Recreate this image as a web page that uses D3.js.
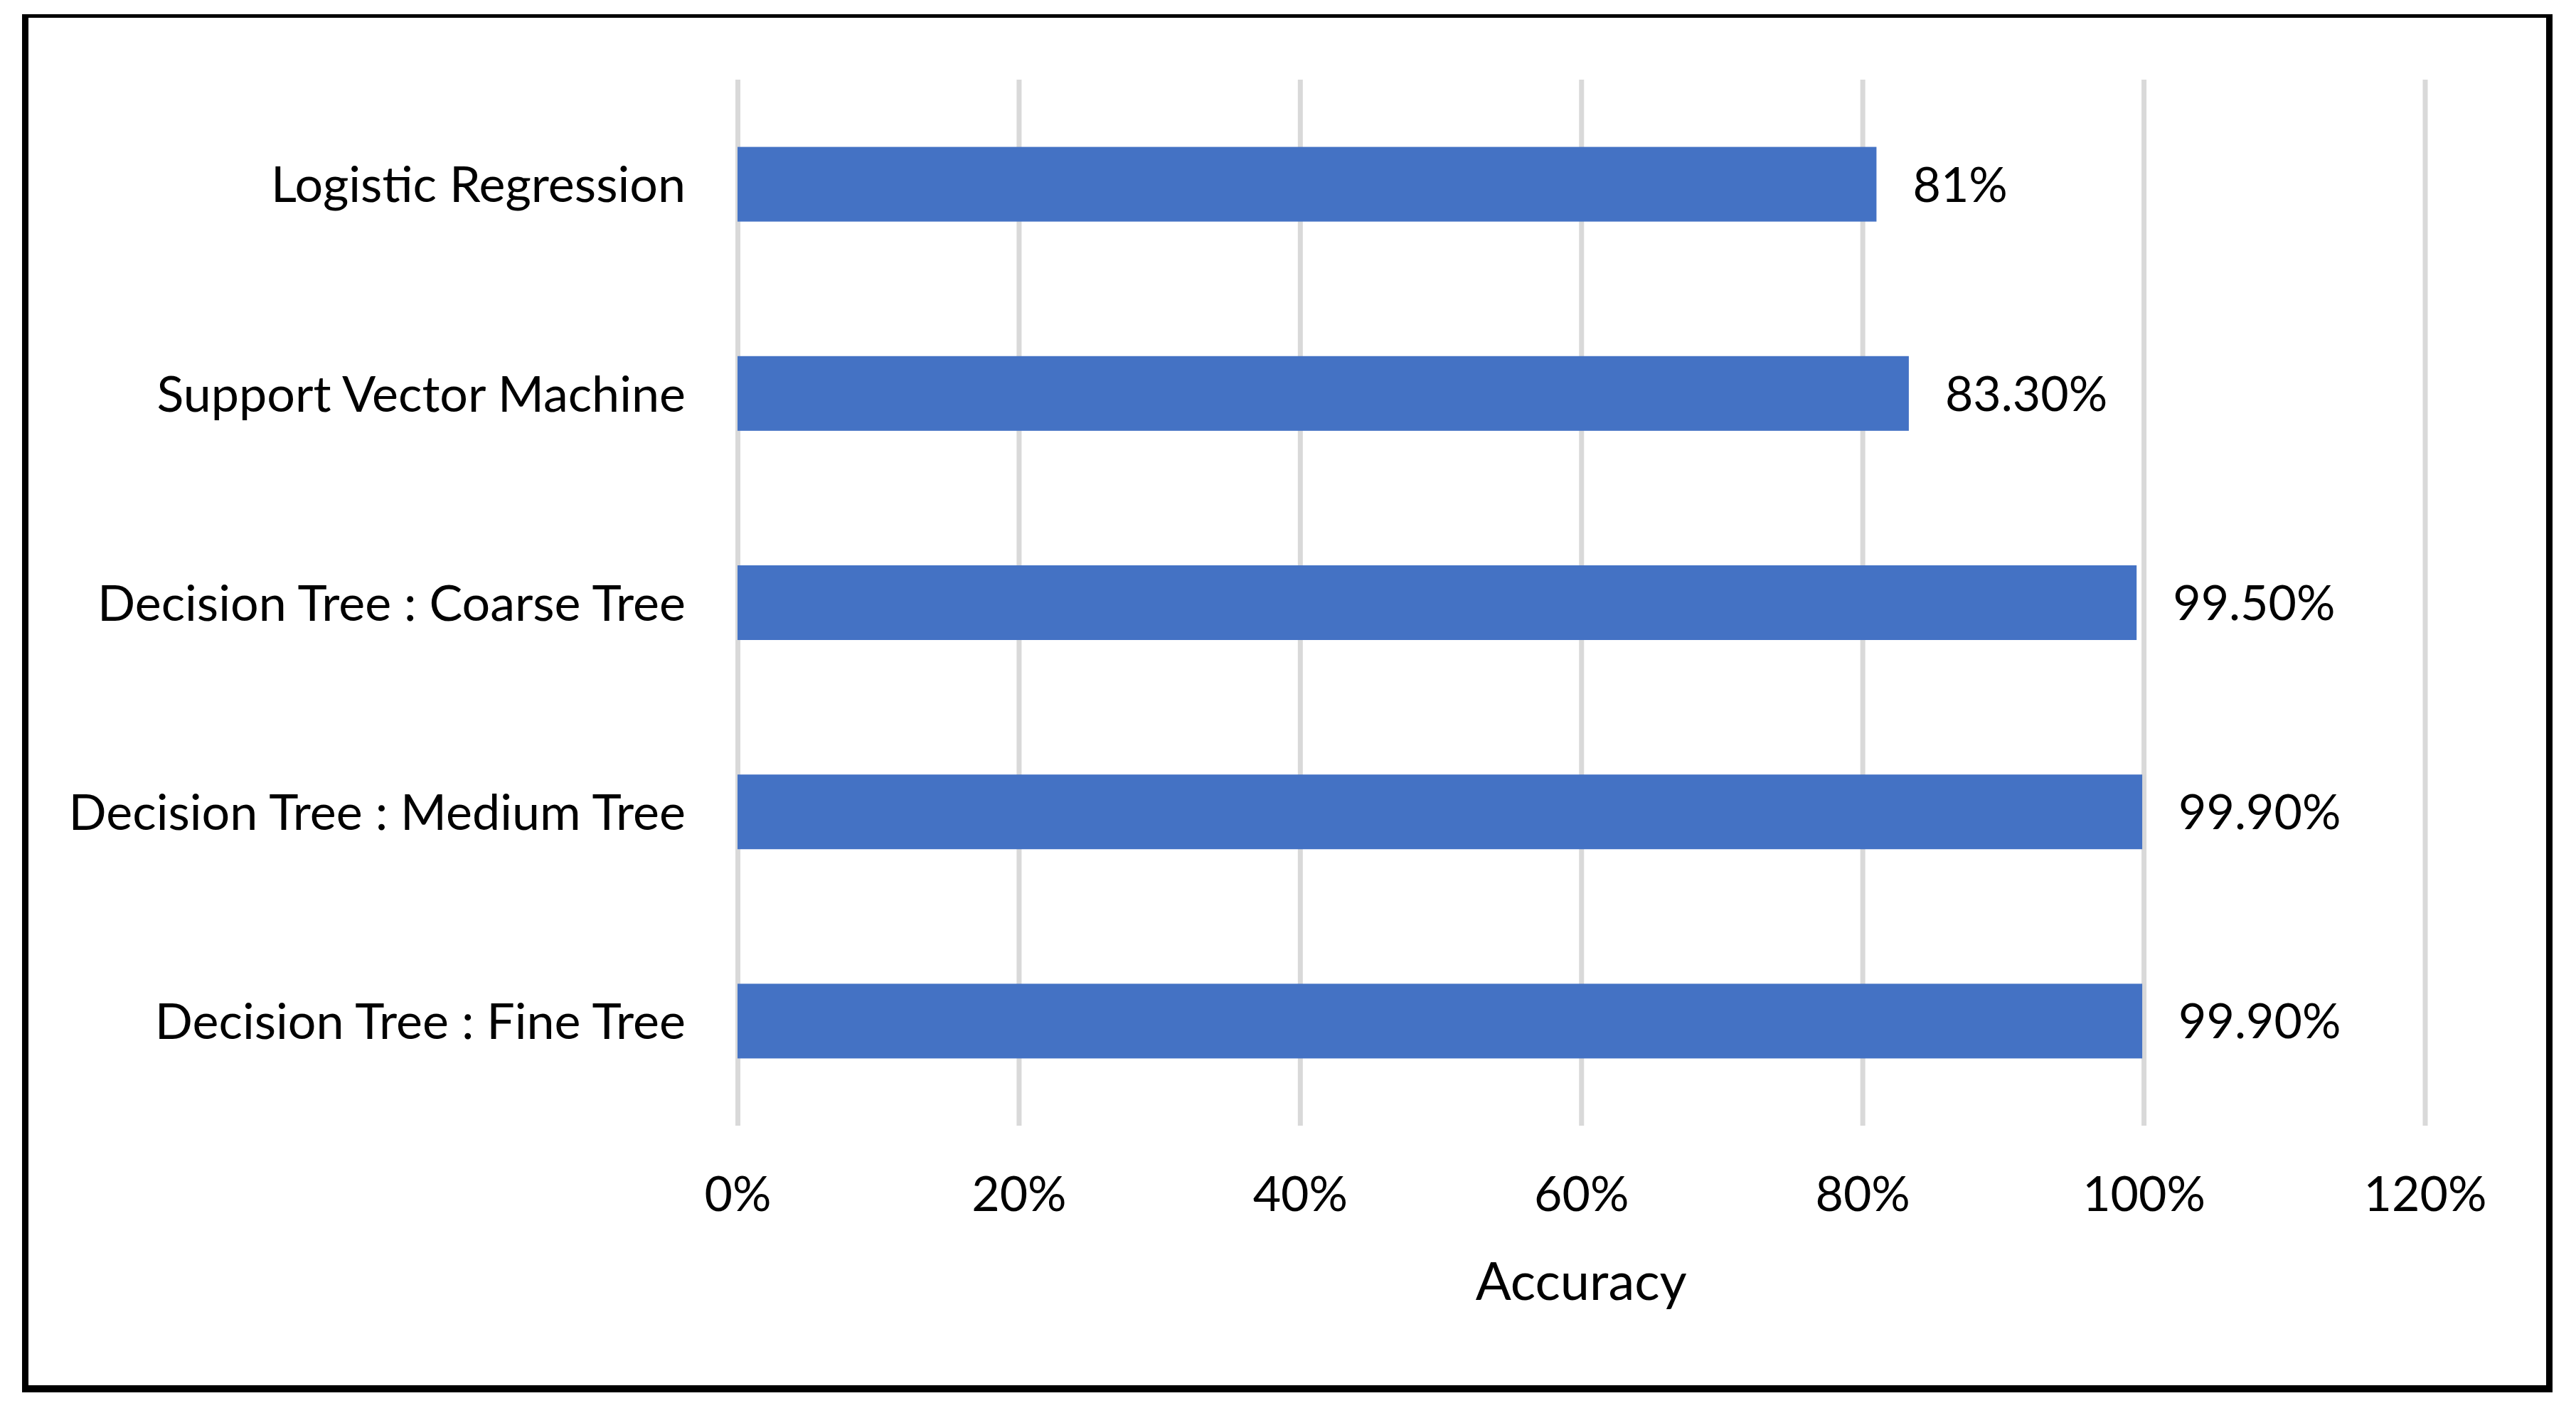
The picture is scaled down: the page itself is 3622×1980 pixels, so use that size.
<!DOCTYPE html>
<html>
<head>
<meta charset="utf-8">
<script src="https://cdn.jsdelivr.net/npm/d3@7"></script>
<style>
  html, body { margin: 0; padding: 0; background: #fff; }
  svg { display: block; }
  text { font-family: Lato, "Noto Sans", sans-serif; fill: #000; }
</style>
</head>
<body>
<svg id="chart"></svg>
<script>
// data
const models = [
  "Logistic Regression",
  "Support Vector Machine",
  "Decision Tree : Coarse Tree",
  "Decision Tree : Medium Tree",
  "Decision Tree : Fine Tree",
];
const accuracy = [81, 83.3, 99.5, 99.9, 99.9];
const accuracyLabels = ["81%", "83.30%", "99.50%", "99.90%", "99.90%"];
const xTicks = [0, 20, 40, 60, 80, 100, 120];
const xTitle = "Accuracy";

const width = 3622;
const height = 1980;
const plot = { left: 1037, right: 3409.5, top: 112, bottom: 1583 };

const svg = d3.select("#chart").attr("width", width).attr("height", height);

// outer frame (top edge is thinner in the original)
svg.append("rect")
  .attr("x", 31).attr("y", 20)
  .attr("width", 3589 - 31).attr("height", 1958 - 20)
  .attr("fill", "#000");
svg.append("rect")
  .attr("x", 40).attr("y", 25)
  .attr("width", 3580 - 40).attr("height", 1948 - 25)
  .attr("fill", "#fff");

const x = d3.scaleLinear().domain([0, 120]).range([plot.left, plot.right]);
const y = d3.scaleBand()
  .domain(models)
  .range([plot.top, plot.bottom])
  .paddingInner(0.643)
  .paddingOuter(0.3215);

const tickFont = 68;
const catFont = 70;

// gridlines + tick labels
const xAxis = svg.append("g")
  .attr("transform", `translate(0,${plot.bottom})`)
  .call(
    d3.axisBottom(x)
      .tickValues(xTicks)
      .tickFormat((d) => d + "%")
      .tickSizeInner(-(plot.bottom - plot.top))
      .tickSizeOuter(0)
  );
xAxis.select(".domain").remove();
xAxis.selectAll(".tick line").attr("stroke", "#d9d9d9").attr("stroke-width", 7);
xAxis.selectAll(".tick text")
  .attr("y", 96 + 0.36 * tickFont)
  .attr("dy", null)
  .style("font-family", "Lato, 'Noto Sans', sans-serif")
  .style("font-size", tickFont + "px");

// bars
const rows = models.map((m, i) => ({ model: m, value: accuracy[i], label: accuracyLabels[i] }));

svg.append("g")
  .selectAll("rect")
  .data(rows)
  .enter()
  .append("rect")
  .attr("x", x(0))
  .attr("y", (d) => y(d.model))
  .attr("width", (d) => x(d.value) - x(0))
  .attr("height", y.bandwidth())
  .attr("fill", "#4472c4");

// value labels
svg.append("g")
  .selectAll("text")
  .data(rows)
  .enter()
  .append("text")
  .attr("x", (d) => x(d.value) + 51)
  .attr("y", (d) => y(d.model) + y.bandwidth() / 2 + 0.36 * tickFont)
  .style("font-size", tickFont + "px")
  .text((d) => d.label);

// category labels
const yAxis = svg.append("g")
  .attr("transform", `translate(${plot.left},0)`)
  .call(d3.axisLeft(y).tickSize(0).tickPadding(73));
yAxis.select(".domain").remove();
yAxis.selectAll(".tick text")
  .attr("dy", null)
  .attr("y", 0.36 * catFont)
  .style("font-family", "Lato, 'Noto Sans', sans-serif")
  .style("font-size", catFont + "px");

// axis title
svg.append("text")
  .attr("x", x(60))
  .attr("y", 1828)
  .attr("text-anchor", "middle")
  .style("font-size", "74px")
  .text(xTitle);
</script>
</body>
</html>
